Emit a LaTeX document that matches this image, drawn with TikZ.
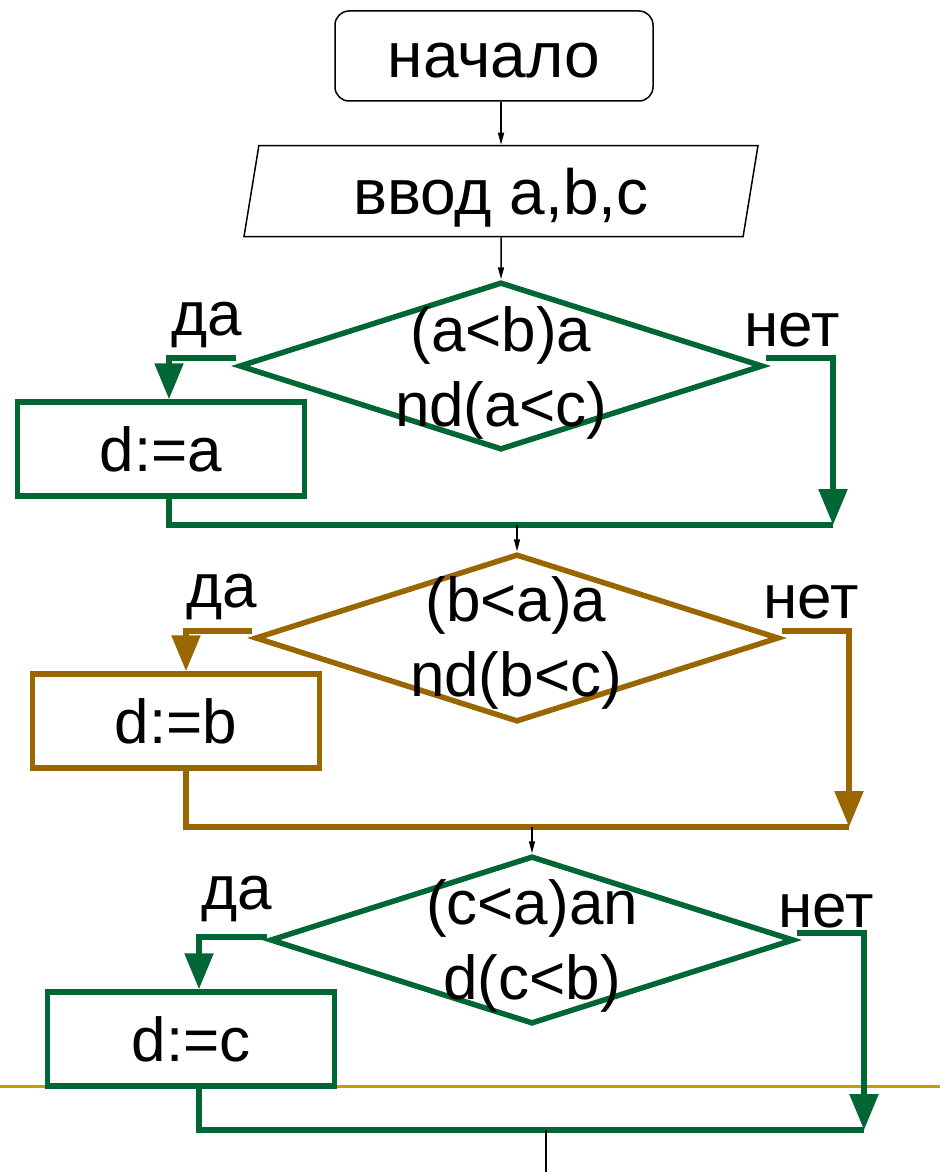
\documentclass[tikz,border=0pt]{standalone}
\usepackage{fontspec}
\setmainfont{Liberation Sans}
\usepackage{tikz}
\usetikzlibrary{arrows.meta,positioning,shapes.geometric,calc}
\definecolor{blockgreen}{HTML}{006633}
\definecolor{blockbrown}{HTML}{996600}
\definecolor{rulegold}{HTML}{CC9900}
\tikzset{%
  terminal/.style={%
    draw,
    line width=0.75pt,
    rounded corners=7pt,
    minimum width=159pt,
    minimum height=45pt,
    text height=21.5pt,
    text depth=0pt,
    font=\fontsize{32}{40}\selectfont
  }
}
\tikzset{%
  io/.style={%
    draw,
    line width=0.75pt,
    trapezium,
    trapezium left angle=76,
    trapezium right angle=104,
    trapezium stretches body,
    minimum width=257pt,
    minimum height=45.5pt,
    text depth=0pt,
    font=\fontsize{32}{40}\selectfont
  }
}
\tikzset{%
  decision/.style={%
    draw,
    diamond,
    line width=2.75pt,
    minimum width=262pt,
    minimum height=84pt
  }
}
\tikzset{%
  cond text/.style={%
    align=center,
    inner sep=0pt,
    font=\fontsize{31}{37.5}\selectfont
  }
}
\tikzset{%
  action/.style={%
    draw,
    line width=2.75pt,
    minimum width=143.5pt,
    minimum height=47pt,
    font=\fontsize{31}{37.5}\selectfont
  }
}
\tikzset{%
  answer/.style={%
    inner sep=0pt,
    font=\fontsize{31}{37.5}\selectfont
  }
}
\tikzset{%
  flow/.style={%
    line width=0.75pt,
    -{Triangle[length=6pt,width=3pt]}
  }
}
\tikzset{%
  branch/.style={%
    line width=2.75pt,
    -{Triangle[length=18pt,width=14pt]}
  }
}
\tikzset{%
  merge/.style={%
    line width=2.75pt
  }
}

\begin{document}
\begin{tikzpicture}[x=0.5pt,y=-0.5pt]
  \useasboundingbox (0,0) rectangle (940,1172);
  \draw [line width=1.5pt, rulegold] (0,1086) -- (940,1086);
  \node [terminal] (start) at (494,56) {начало};
  \node [io] (input) at (501,191) {ввод a,b,c};
  \draw [flow] (input.north |- start.south) -- (input.north);
  % a < b, a < c
  \node [decision, draw=blockgreen] (ifa) at (501,366) {};
  \node [cond text] (ifatext) at (501,373) {(a<b)a\\nd(a<c)};
  \node [action, draw=blockgreen] (seta) at (161,449) {d:=a};
  \node [answer] (yesa) at (207,325) {да};
  \node [answer] (noa) at (792,330) {нет};
  \coordinate (joina) at (833,525);
  \draw [flow] (input) -- (ifa);
  \draw [branch, blockgreen] ([yshift=4pt]ifa.west) -| ([xshift=4pt]seta.north);
  \draw [branch, blockgreen] ([yshift=4pt]ifa.east) -| (joina);
  \draw [merge, blockgreen] ([xshift=4pt]seta.south) |- (joina);
  % b < a, b < c
  \node [decision, draw=blockbrown] (ifb) at (517,638) {};
  \node [cond text] (ifbtext) at (516,643) {(b<a)a\\nd(b<c)};
  \node [action, draw=blockbrown] (setb) at (176,721) {d:=b};
  \node [answer] (yesb) at (222,597) {да};
  \node [answer] (nob) at (811,602) {нет};
  \coordinate (joinb) at (849,827);
  \draw [flow] (joina -| ifb.north) -- (ifb.north);
  \draw [branch, blockbrown] ([yshift=3.5pt]ifb.west) -| ([xshift=5pt]setb.north);
  \draw [branch, blockbrown] ([yshift=3.5pt]ifb.east) -| (joinb);
  \draw [merge, blockbrown] ([xshift=5pt]setb.south) |- (joinb);
  % c < a, c < b
  \node [decision, draw=blockgreen] (ifc) at (532,940) {};
  \node [cond text] (ifctext) at (532,946) {(c<a)an\\d(c<b)};
  \node [action, draw=blockgreen] (setc) at (191,1039) {d:=c};
  \node [answer] (yesc) at (237,899) {да};
  \node [answer] (noc) at (826,911) {нет};
  \coordinate (joinc) at (864,1130);
  \coordinate (exit) at (546,1172);
  \draw [flow] (joinb -| ifc.north) -- (ifc.north);
  \draw [branch, blockgreen] ([yshift=1.5pt]ifc.west) -| ([xshift=4pt]setc.north);
  \draw [branch, blockgreen] ([yshift=3.5pt]ifc.east) -| (joinc);
  \draw [merge, blockgreen] ([xshift=4pt]setc.south) |- (joinc);
  \draw [line width=0.75pt] (exit |- joinc) -- (exit);
\end{tikzpicture}
\end{document}
